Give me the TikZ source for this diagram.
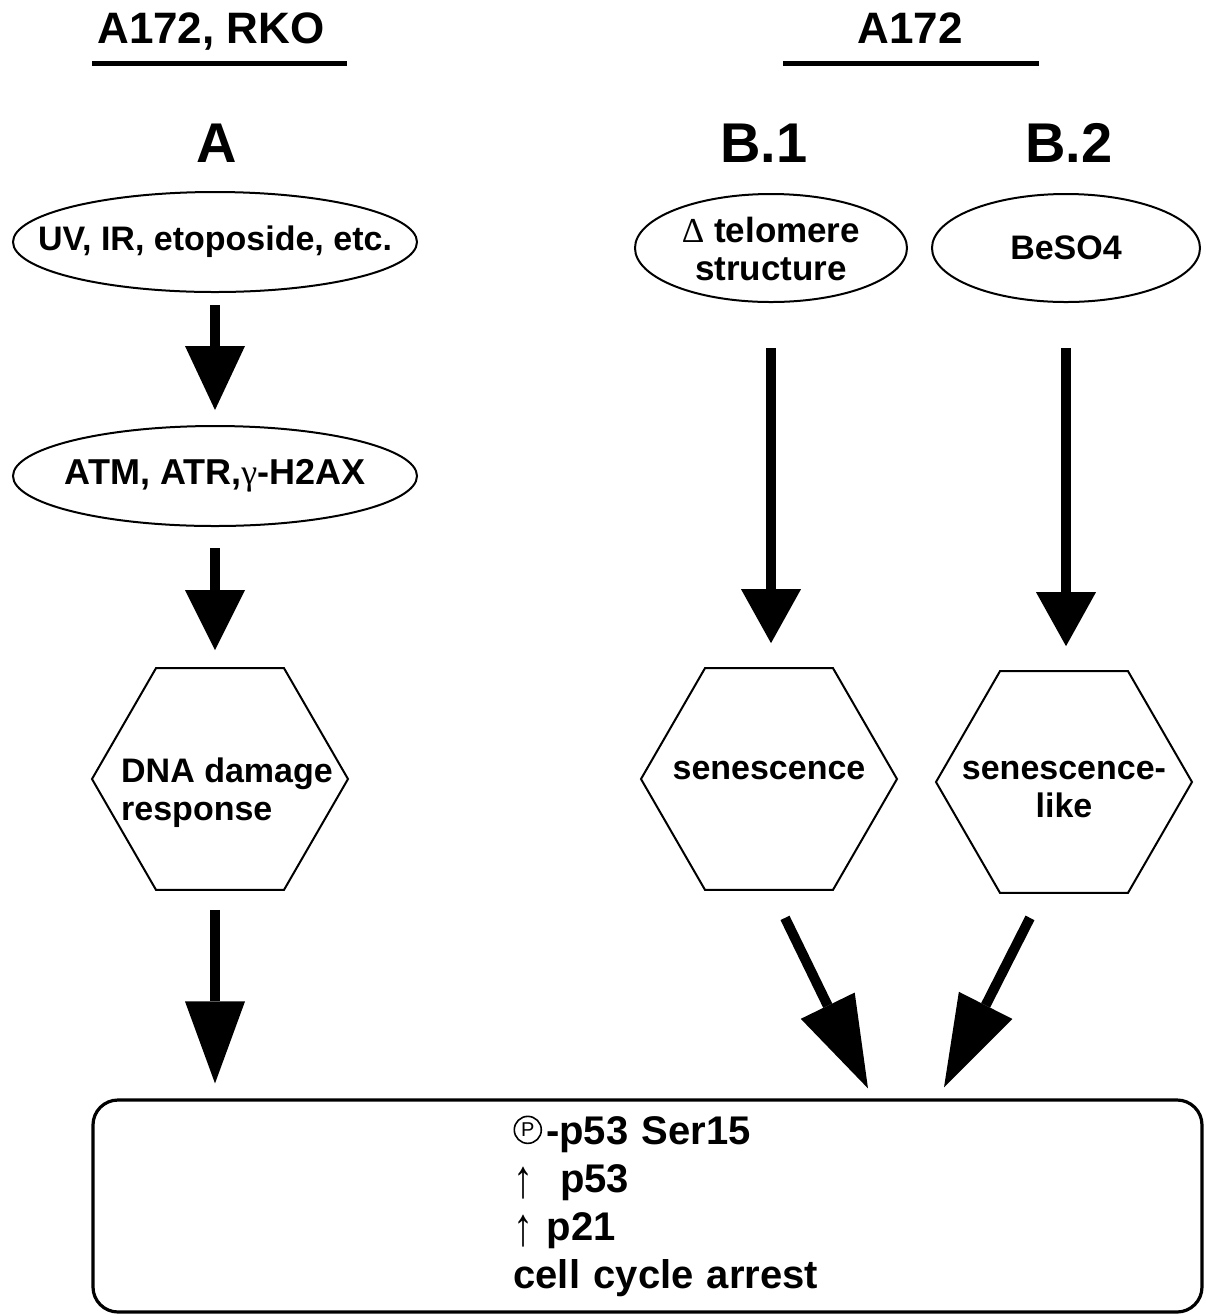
\documentclass[tikz,border=0pt]{standalone}
\usepackage{fontspec}
\usepackage{graphicx}
\setmainfont{Liberation Sans}
\newfontfamily\symfont{Liberation Serif}
\usetikzlibrary{arrows.meta, shapes.geometric, calc, positioning}
\newcommand{\nowidth}[1]{\makebox[0pt]{#1}}
% text set on the node centre, first baseline moved by #2
\newcommand{\shifted}[3][c]{\nowidth{\smash{\raisebox{#2}{\begin{tabular}[t]{@{}#1@{}}#3\end{tabular}}}}}
\newcommand{\circP}{\tikz[baseline=0pt]{\node[circle, draw, line width=0.8pt, inner sep=0pt, minimum size=13.5pt, font=\fontsize{10}{10}\selectfont\mdseries, anchor=south] (pcirc) at (0,0) {P};}}
\newcommand{\upar}{{\symfont\mdseries\raisebox{-2.5pt}{\scalebox{1}[1.35]{↑}}}}
\tikzset{
	stim/.style={ellipse, draw, line width=1pt, inner sep=0pt, minimum width=202pt, minimum height=50pt, font=\fontsize{17}{19}\selectfont\bfseries},
	hexa/.style={regular polygon, regular polygon sides=6, draw, line width=1pt, inner sep=0pt, minimum size=128pt, font=\fontsize{17}{19}\selectfont\bfseries},
	fatarrow/.style={line width=5pt, -{Triangle[width=30pt, length=#1, line width=0pt]}},
	fatarrow/.default=30pt,
	hdr/.style={font=\fontsize{22}{24}\selectfont\bfseries, anchor=base},
	panel/.style={font=\fontsize{28}{30}\selectfont\bfseries, anchor=base},
	hrule/.style={line width=2.5pt}
}

\begin{document}
\begin{tikzpicture}[x=0.5pt, y=-0.5pt]
	\useasboundingbox (0,0) rectangle (1206,1314);

	\node[hdr] (hdra) at (211,43) {A172, RKO};
	\node[hdr] (hdrb) at (910,43) {A172};
	\draw[hrule] (92,63) -- (347,63);
	\draw[hrule] (783,63) -- (1039,63);
	\node[panel] (pa) at (217,162) {A};
	\node[panel] (pb1) at (764,162) {B.1};
	\node[panel] (pb2) at (1069,162) {B.2};

	\node[stim] (uv) at (215,242) {\nowidth{UV, IR, etoposide, etc.}};
	\node[stim, font=\fontsize{18}{20}\selectfont\bfseries] (atm) at (215,476) {\nowidth{ATM, ATR,{\symfont\mdseries γ}-H2AX}};
	\node[stim, minimum width=136pt, minimum height=54pt, font=\fontsize{17.5}{19}\selectfont\bfseries] (tel) at (771,248) {\shifted{3pt}{{\symfont\mdseries Δ} telomere\\structure}};
	\node[stim, minimum width=134pt, minimum height=54pt] (beso) at (1066,248) {BeSO4};

	\node[hexa] (dna) at (220,779) {\shifted[l]{-1.5pt}{\hspace*{7pt}DNA damage\\\hspace*{7pt}response}};
	\node[hexa] (sen) at (769,779) {\shifted{0pt}{senescence}};
	\node[hexa] (like) at (1064,782) {\shifted{1.5pt}{senescence-\\like}};

	\node[draw, line width=1.6pt, rounded corners=12.5pt, minimum width=554.5pt, minimum height=106pt, text width=134pt, align=left, font=\fontsize{20}{24}\selectfont\bfseries] (arrest) at (647.5,1206) {\circP\hspace{2pt}-p53 Ser15\\\upar\ \ p53\\\upar\ p21\\\mbox{cell cycle arrest}};

	\draw[fatarrow=32pt, shorten <=6pt, shorten >=7.5pt] (uv.south) -- (atm.north);
	\draw[fatarrow=30pt, shorten <=10.5pt, shorten >=8.5pt] (atm.south) -- (atm.south |- dna.north);
	\draw[fatarrow=41pt, shorten <=9.5pt, shorten >=7.5pt] (atm.south |- dna.south) -- (atm.south |- arrest.north);
	\draw[fatarrow=27pt, shorten <=22.5pt, shorten >=12pt] (tel.south) -- (tel.south |- sen.north);
	\draw[fatarrow=27pt, shorten <=22.5pt, shorten >=12pt] (beso.south) -- (beso.south |- like.north);
	\draw[fatarrow=46pt] ($(sen.south)+(16,27)$) -- ($(arrest.north)+(220.5,-10)$);
	\draw[fatarrow=46pt] ($(like.south)+(-34,24)$) -- ($(arrest.north)+(296.5,-11)$);
\end{tikzpicture}
\end{document}
